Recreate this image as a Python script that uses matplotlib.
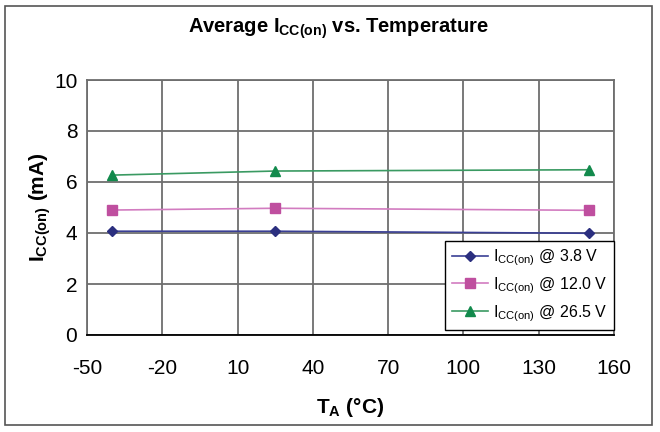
import matplotlib
matplotlib.use("Agg")
import matplotlib.pyplot as plt
from matplotlib.patches import Rectangle

plt.rcParams['font.family'] = ['Liberation Sans', 'DejaVu Sans']
plt.rcParams['mathtext.fontset'] = 'custom'
plt.rcParams['mathtext.rm'] = 'Liberation Sans'
plt.rcParams['mathtext.bf'] = 'Liberation Sans:bold'
plt.rcParams['mathtext.it'] = 'Liberation Sans:italic'
plt.rcParams['axes.unicode_minus'] = False

# data
temps = [-40, 25, 150]
icc_3v8 = [4.07, 4.07, 3.99]
icc_12v0 = [4.90, 4.97, 4.89]
icc_26v5 = [6.27, 6.43, 6.48]

x_ticks = [-50, -20, 10, 40, 70, 100, 130, 160]
y_ticks = [0, 2, 4, 6, 8, 10]

fig = plt.figure(figsize=(6.6, 4.32), dpi=100)
ax = fig.add_axes([87 / 660, 1 - 335 / 432, (614 - 87) / 660, (335 - 80) / 432])

ax.plot(temps, icc_3v8, color='#3A3F95', marker='D', markersize=5,
        markerfacecolor='#2B2F7F', markeredgecolor='#2B2F7F', linewidth=1.2,
        label=r'$\mathregular{I_{CC(on)}}$ @ 3.8 V', zorder=3)
ax.plot(temps, icc_12v0, color='#D27CC0', marker='s', markersize=7,
        markerfacecolor='#BF4F9F', markeredgecolor='#BF4F9F', linewidth=1.2,
        label=r'$\mathregular{I_{CC(on)}}$ @ 12.0 V', zorder=3)
ax.plot(temps, icc_26v5, color='#3A9A62', marker='^', markersize=7,
        markerfacecolor='#128A4C', markeredgecolor='#128A4C', linewidth=1.2,
        label=r'$\mathregular{I_{CC(on)}}$ @ 26.5 V', zorder=3)

ax.set_xlim(-50, 160)
ax.set_ylim(0, 10)
ax.set_xticks(x_ticks)
ax.set_yticks(y_ticks)
ax.tick_params(length=0, labelsize=15)
ax.tick_params(axis='x', pad=17)
ax.tick_params(axis='y', pad=7)
ax.grid(True, color='#6E6E6E', linewidth=1.3)
ax.set_axisbelow(True)
for side in ['left', 'top', 'right']:
    ax.spines[side].set_color('#6E6E6E')
    ax.spines[side].set_linewidth(1.3)
ax.spines['bottom'].set_color('black')
ax.spines['bottom'].set_linewidth(1.3)

ax.set_ylabel(r'$\mathbf{I_{CC(on)}}$ (mA)', fontsize=15, fontweight='bold', labelpad=1)
ax.set_xlabel(r'$\mathbf{T_A}$ (°C)', fontsize=15, fontweight='bold', labelpad=13)
fig.text(338 / 660, 1 - 29 / 432, r'Average $\mathbf{I_{CC(on)}}$ vs. Temperature',
         ha='center', va='center', fontsize=14.5, fontweight='bold')

leg = ax.legend(loc='lower right', bbox_to_anchor=(1.0, 0.02), fontsize=11.5,
                frameon=True, fancybox=False, framealpha=1, edgecolor='black',
                borderpad=0.4, handlelength=2.3, handletextpad=0.3,
                labelspacing=0.45, borderaxespad=0)
leg.get_frame().set_linewidth(1.0)

fig.patches.append(Rectangle((5 / 660, 7 / 432), 647 / 660, 419 / 432,
                             transform=fig.transFigure, fill=False,
                             edgecolor='#555555', linewidth=1.2))

fig.savefig('out.png', dpi=100)
